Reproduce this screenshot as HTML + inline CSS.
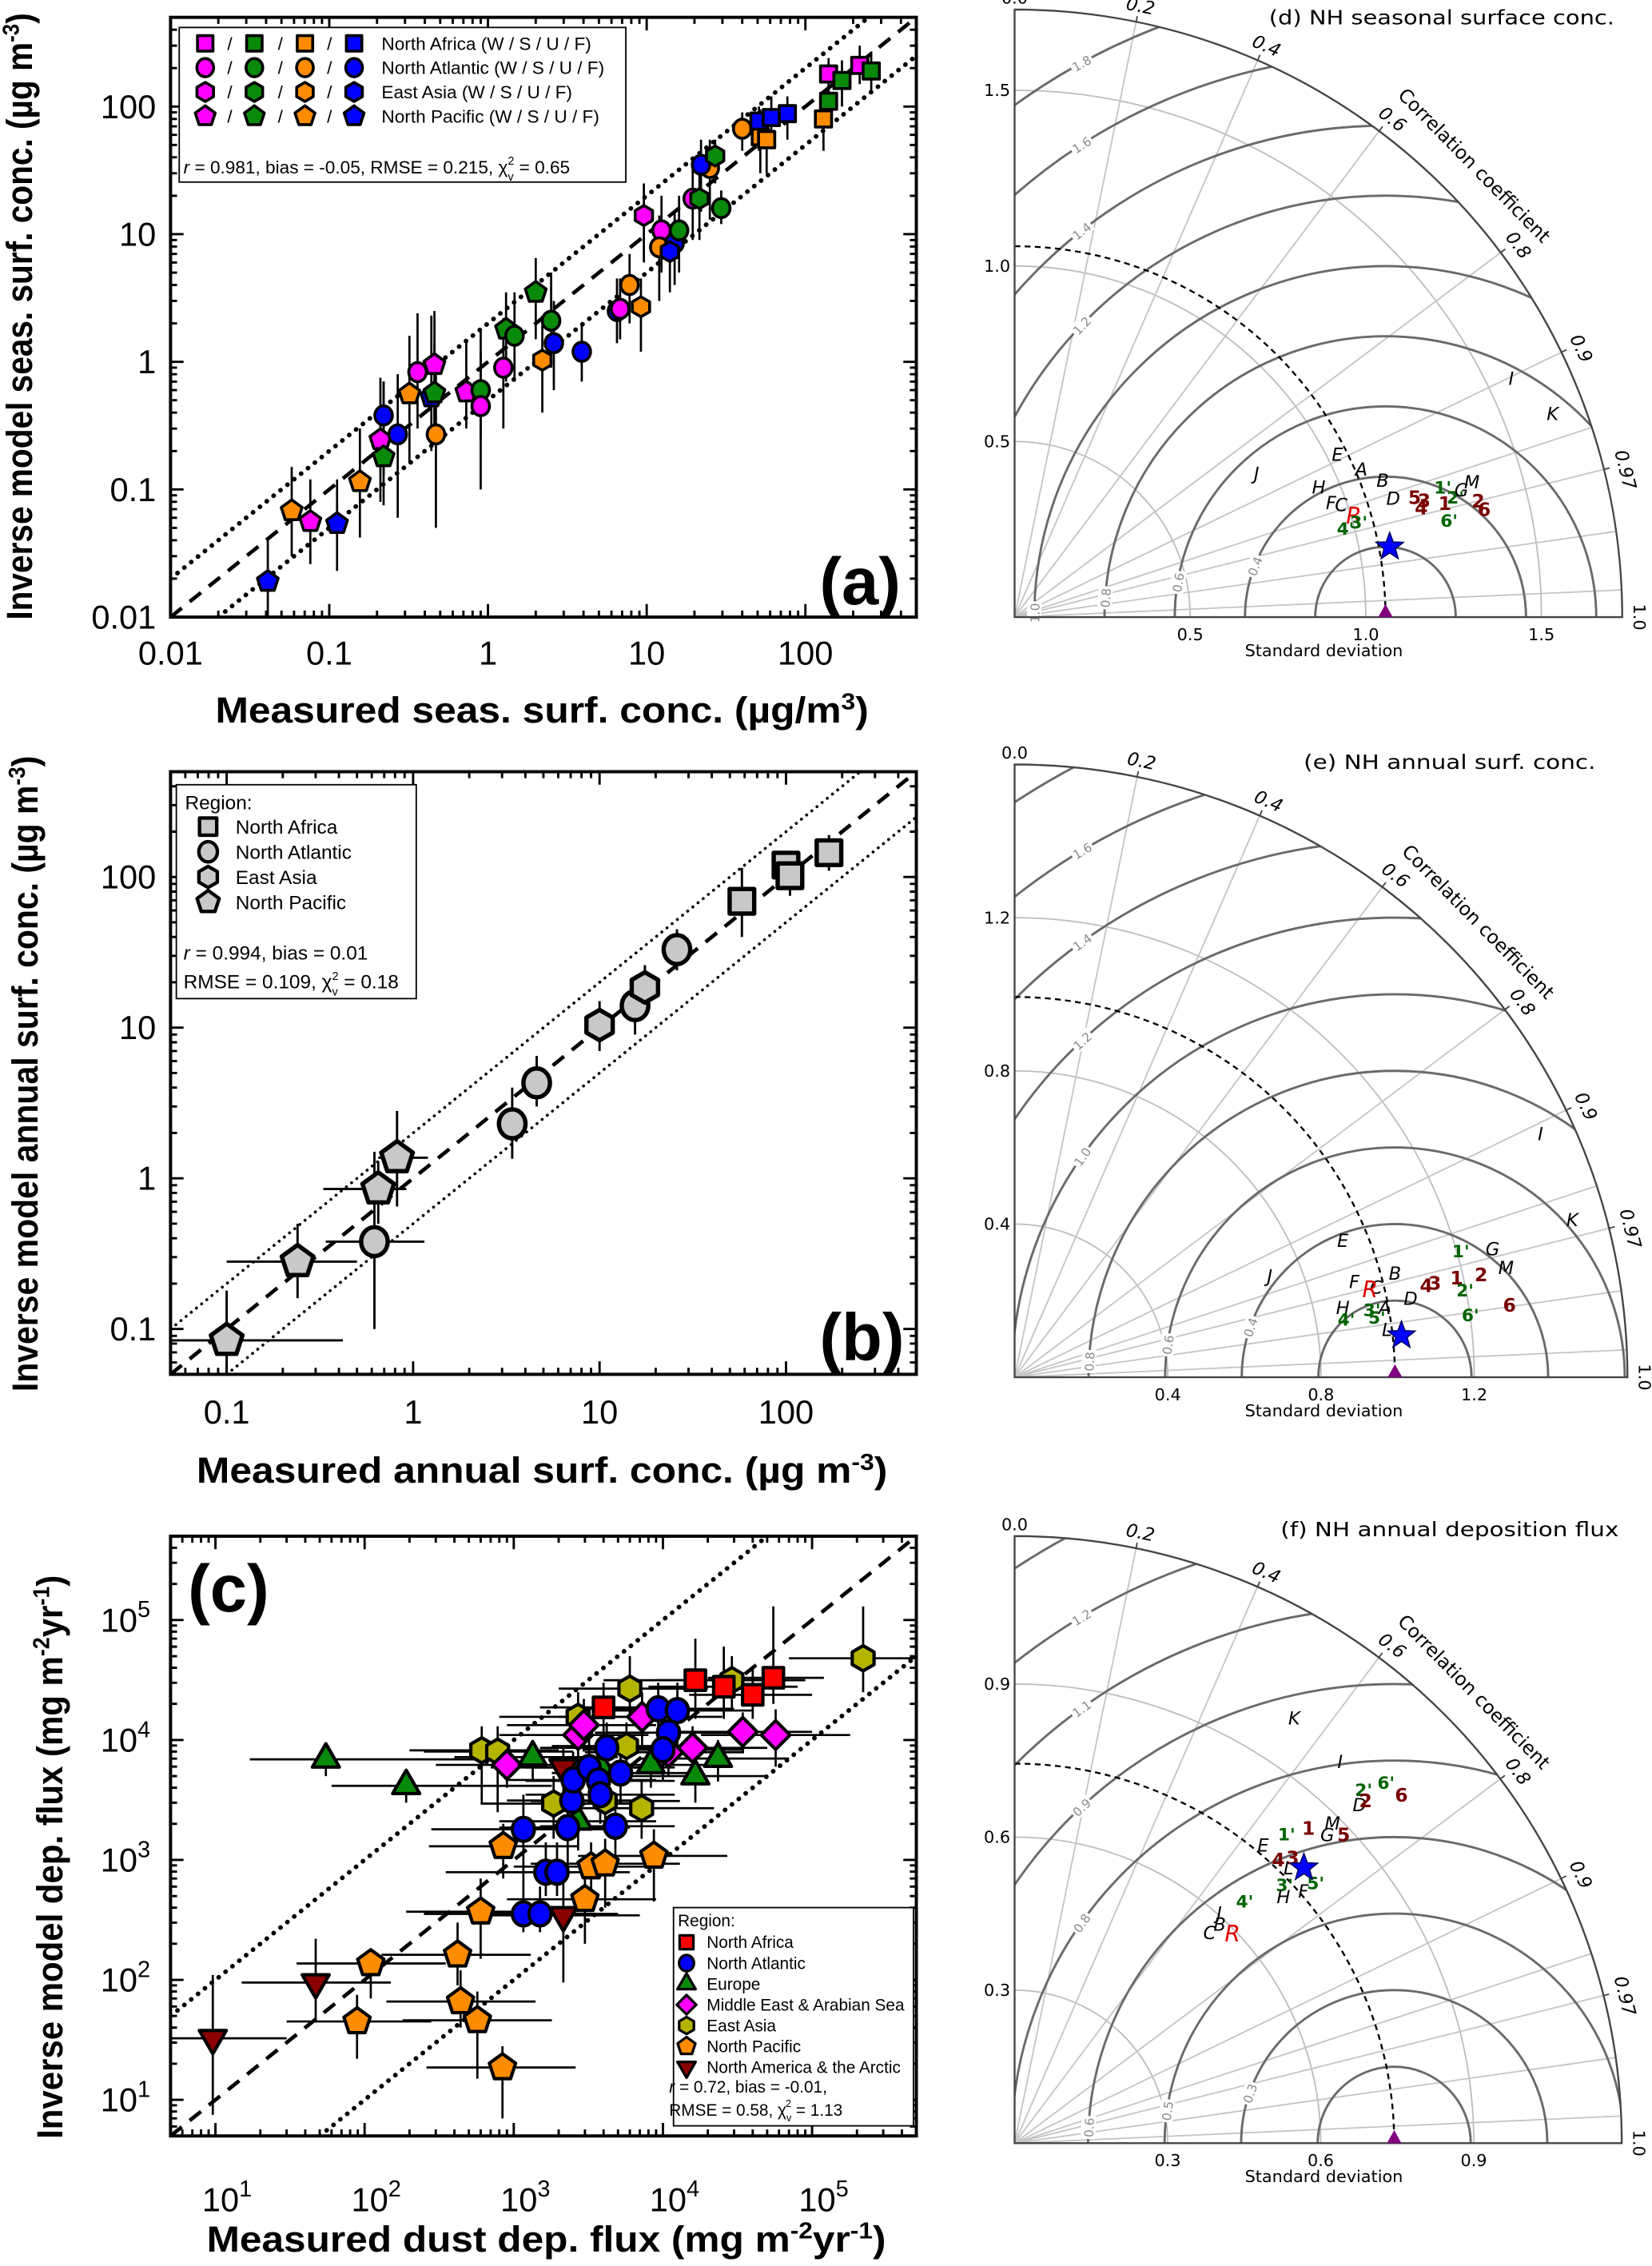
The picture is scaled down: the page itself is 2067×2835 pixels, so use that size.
<!DOCTYPE html>
<html><head><meta charset="utf-8">
<style>
html,body{margin:0;padding:0;background:#fff;overflow:hidden;width:2067px;height:2835px;}
svg{display:block;overflow:hidden;}
text{font-family:"Liberation Sans",Arial,sans-serif;}
.tay text{font-family:"DejaVu Sans","Liberation Sans",sans-serif;}
</style></head>
<body>
<svg id="fig" xmlns="http://www.w3.org/2000/svg" width="2067" height="2835" viewBox="0 0 1143 1568" preserveAspectRatio="none">
<rect x="0" y="0" width="1143" height="1568" fill="#fff"/>
</svg>
<script>
// ---------------- DATA ----------------
const aNorthPacific=[[0.041,0.019,0.01,0.04,'F'],[0.058,0.068,0.03,0.15,'U'],[0.076,0.056,0.026,0.12,'W'],[0.112,0.054,0.023,0.12,'F'],[0.156,0.115,0.042,0.3,'U'],[0.21,0.245,0.08,0.75,'W'],[0.22,0.18,0.075,0.7,'S'],[0.32,0.56,0.16,1.6,'U'],[0.44,0.53,0.2,2.3,'F'],[0.46,0.57,0.25,1.4,'S'],[0.46,0.95,0.3,2.5,'W'],[0.73,0.58,0.3,1.5,'W'],[1.3,1.8,0.7,3.5,'S'],[2.0,3.5,1.5,6.5,'S']];
const aNorthAtlantic=[[0.22,0.38,0.13,0.7,'F'],[0.27,0.27,0.06,0.8,'F'],[0.36,0.83,0.3,2.4,'W'],[0.47,0.27,0.05,0.8,'U'],[0.9,0.6,0.25,1.8,'S'],[0.9,0.45,0.1,1.2,'W'],[1.25,0.9,0.3,2.2,'W'],[1.47,1.6,0.7,3.5,'S'],[2.5,2.1,0.9,5,'S'],[2.6,1.4,0.6,3,'F'],[3.9,1.2,0.7,2,'F'],[7.8,4.0,2,7,'U'],[6.5,2.5,1.4,4.5,'F'],[6.8,2.6,1.5,4.5,'W'],[12.4,10.7,5,20,'W'],[12,7.9,3,14,'U'],[15,8.5,4,15,'F'],[16,10.7,5,20,'S'],[19.5,19,9,35,'W'],[29.5,16,12,22,'S'],[25,33,13,55,'U'],[22,35,15,55,'F'],[40,67,45,90,'U']];
const aEastAsia=[[2.2,1.03,0.4,2.3,'U'],[9.2,2.7,1.2,4.5,'U'],[9.6,14,6,25,'W'],[14,7.3,3.5,12,'F'],[21.5,19,9,35,'S'],[27,41,25,55,'S']];
const aNorthAfrica=[[52,58,30,95,'U'],[57,55,30,90,'U'],[51,77,45,100,'F'],[61,82,50,120,'F'],[77,88,55,120,'F'],[140,110,70,150,'S'],[130,80,45,110,'U'],[140,180,110,240,'W'],[170,160,100,230,'S'],[220,210,150,300,'W'],[260,190,130,270,'S']];
const aXTicks=['0.01','0.1','1','10','100'];
const aYTicks=['0.01','0.1','1','10','100'];

const bPoints=[[0.1,0.084,0.05,0.42,0.05,0.18,'pent'],[0.24,0.28,0.1,0.5,0.16,0.5,'pent'],[0.62,0.38,0.34,1.15,0.1,1.5,'circ'],[0.65,0.85,0.33,0.92,0.5,1.3,'pent'],[0.82,1.37,0.65,1.2,0.65,2.8,'pent'],[3.4,2.3,3.4,3.4,1.35,4,'circ'],[4.6,4.3,4.6,4.6,3,6.5,'circ'],[10,10.4,10,10,7,15,'hex'],[15.5,14,15.5,15.5,9,20,'circ'],[17.5,18.5,17.5,17.5,13,26,'hex'],[26,33,26,26,24,45,'circ'],[58,69,58,58,40,115,'sq'],[100,120,100,100,90,130,'sq'],[105,102,105,105,75,110,'sq'],[170,145,170,170,110,190,'sq']];
const bXTicks=['0.1','1','10','100'];
const bYTicks=['0.1','1','10','100'];

const cNorthAfrica=[[4000,18700,1500,14000,10000,30000],[16500,31500,4000,60000,15000,70000],[25600,27800,8000,80000,15000,60000],[40000,23800,15000,100000,15000,40000],[55000,33000,20000,120000,20000,130000]];
const cNorthAtlantic=[[1160,1800,280,4000,700,3500],[1160,355,250,3500,250,700],[1500,355,500,5000,250,600],[1640,790,350,6000,500,1400],[1950,790,700,5000,500,1400],[2300,1860,800,6000,900,3500],[2450,3130,900,8000,1500,6000],[2500,4640,900,9000,2500,8000],[3200,5900,1200,10000,3000,10000],[3700,4560,1200,12000,2500,8000],[4200,8600,1500,15000,5000,14000],[4800,1910,1500,12000,1000,3500],[5200,5300,1800,18000,3000,9000],[9300,18200,3000,30000,9000,30000],[12500,17600,4000,40000,9000,30000],[10900,11500,3500,35000,6000,20000],[10000,8300,3000,35000,4500,14000],[3800,3500,1200,12000,2000,6000]];
const cEurope=[[55,6900,17,700,5000,8000],[190,4150,60,1800,3000,5000],[1340,7200,400,5000,4500,10000],[2700,2100,800,9000,1200,3500],[3850,5900,1200,12000,3500,9000],[8300,6200,2500,25000,4000,9000],[16500,5000,5000,50000,3000,8000],[23400,7000,7000,70000,4500,10000]];
const cMiddleEast=[[900,6200,300,3000,4000,9000],[2700,11000,800,8000,6000,18000],[2950,13300,900,9000,8000,22000],[7250,15600,2000,25000,9000,25000],[10900,7900,3000,35000,5000,12000],[15800,8600,5000,50000,5500,13000],[34300,11700,10000,100000,8000,17000],[57000,11000,18000,180000,6000,18000]];
const cEastAsia=[[610,8200,200,2000,3000,13000],[780,8000,250,2500,2500,13000],[1850,2950,600,6000,1500,5000],[2700,15600,800,9000,9000,25000],[4100,3100,1300,13000,1800,5000],[5700,8900,1800,18000,5000,14000],[6000,26800,2000,20000,15000,50000],[7200,2700,2200,22000,1500,4500],[29000,31500,9000,90000,18000,50000],[220000,48000,70000,700000,25000,130000]];
const cNorthPacific=[[89,45,30,280,22,75],[110,137,35,350,70,180],[420,162,130,1300,90,300],[440,66,140,1400,40,120],[570,46,180,1800,15,80],[840,18.6,260,2600,7,28],[600,370,190,1900,150,700],[850,1300,270,2700,700,2000],[3000,470,900,9000,200,900],[3300,880,1000,10000,500,1400],[4100,930,1300,13000,400,1500],[8700,1080,2700,27000,450,1800]];
const cNorthAmerica=[[9.6,32.6,3,30,7.5,110],[47,95,15,150,45,220],[2150,345,700,7000,95,700],[2150,5900,700,7000,3000,9000]];
const cTickExp=['1','2','3','4','5'];

const dPoints=[['J',0.689,0.407],['E',0.919,0.462],['A',0.987,0.419],['B',1.048,0.387],['H',0.866,0.368],['F',0.901,0.324],['C',0.930,0.318],['D',1.078,0.336],['R',0.966,0.283],["4'",0.942,0.251],["3'",0.980,0.269],['5',1.139,0.338],['3',1.166,0.330],['4',1.158,0.309],['1',1.225,0.321],["1'",1.219,0.368],["2'",1.255,0.340],['G',1.272,0.360],['M',1.302,0.383],['2',1.320,0.328],['6',1.337,0.304],["6'",1.237,0.274],['I',1.414,0.678],['K',1.532,0.578]];
const dStar=[1.068,0.200];
const dRef=1.056;
const ePoints=[['E',0.857,0.355],['J',0.666,0.262],['F',0.887,0.248],['C',0.944,0.233],['R',0.928,0.224],['B',0.993,0.270],['H',0.857,0.180],["3'",0.933,0.175],['A',0.966,0.180],["4'",0.866,0.150],["5'",0.946,0.155],['L',0.972,0.123],['D',1.034,0.204],['4',1.075,0.237],['3',1.097,0.244],['1',1.154,0.257],['2',1.218,0.266],["1'",1.165,0.328],['G',1.248,0.333],['M',1.283,0.284],["2'",1.176,0.226],["6'",1.190,0.161],['6',1.292,0.186],['I',1.373,0.634],['K',1.456,0.410]];
const eStar=[1.010,0.109];
const eRef=0.993;
const fPoints=[['K',0.548,0.832],['I',0.638,0.747],["2'",0.684,0.692],["6'",0.728,0.706],['6',0.758,0.681],['D',0.676,0.662],['2',0.688,0.670],['M',0.623,0.626],['1',0.576,0.616],['G',0.613,0.603],['5',0.645,0.603],["1'",0.533,0.605],['E',0.487,0.583],['4',0.517,0.554],['3',0.545,0.558],['L',0.537,0.538],["3'",0.529,0.505],["5'",0.590,0.509],['F',0.566,0.493],['H',0.527,0.482],["4'",0.451,0.473],['J',0.401,0.450],['B',0.402,0.428],['C',0.382,0.411],['R',0.427,0.407]];
const fStar=[0.567,0.540];
const fRef=0.744;
const corrTickValues=[0.2,0.4,0.6,0.8,0.9,0.97];
const corrRayValues=[0.2,0.4,0.6,0.8,0.9,0.95,0.97,0.99,0.999];

// ---------------- HELPERS ----------------
const NS='http://www.w3.org/2000/svg';
const svg=document.getElementById('fig');
function mk(tag,attrs,parent){const e=document.createElementNS(NS,tag);for(const k in attrs)e.setAttribute(k,attrs[k]);(parent||svg).appendChild(e);return e;}
function grp(name,parent){const g=mk('g',{},parent);return g;}
function txt(s,x,y,attrs,parent){const t=mk('text',Object.assign({x:x,y:y},attrs||{}),parent);t.textContent=s;return t;}
const seasonColor={W:'#ff00ff',S:'#0a8a0a',U:'#ff8c00',F:'#0000ff'};

function shapePts(type,cx,cy,r){
  const poly=(n,start,rad)=>{const p=[];for(let k=0;k<n;k++){const a=(start+360*k/n)*Math.PI/180;p.push((cx+rad*Math.cos(a)).toFixed(2)+','+(cy+rad*Math.sin(a)).toFixed(2));}return p.join(' ');};
  if(type==='hex')return poly(6,-90,r*1.05);
  if(type==='pent')return poly(5,-90,r*1.15);
  if(type==='tri')return poly(3,-90,r*1.3);
  if(type==='tdown')return poly(3,90,r*1.3);
  if(type==='dia')return poly(4,-90,r*1.2);
  return null;
}
function marker(type,cx,cy,r,fill,sw,parent){
  let e;
  if(type==='sq')e=mk('rect',{x:cx-r*0.85,y:cy-r*0.85,width:r*1.7,height:r*1.7},parent);
  else if(type==='circ')e=mk('ellipse',{cx:cx,cy:cy,rx:r*0.92,ry:r},parent);
  else e=mk('polygon',{points:shapePts(type,cx,cy,r)},parent);
  e.setAttribute('fill',fill);e.setAttribute('stroke','#000');e.setAttribute('stroke-width',sw);e.setAttribute('stroke-linejoin','round');
  return e;
}

let clipId=0;
function scatterPanel(name,c){
  const g=grp(name);
  const L0=Math.log10(c.min),L1=Math.log10(c.max);
  c.clamp=v=>Math.min(c.max,Math.max(c.min,v));
  c.sx=v=>c.x0+(Math.log10(c.clamp(v))-L0)/(L1-L0)*(c.x1-c.x0);
  c.sy=v=>c.y1-(Math.log10(c.clamp(v))-L0)/(L1-L0)*(c.y1-c.y0);
  const id='clip'+(clipId++);
  const cp=mk('clipPath',{id:id},g);mk('rect',{x:c.x0,y:c.y0,width:c.x1-c.x0,height:c.y1-c.y0},cp);
  c.plot=grp(name+'-plot-area',g);c.plot.setAttribute('clip-path','url(#'+id+')');
  const lines=grp(name+'-reference-lines',c.plot);
  const l1=mk('line',{x1:c.sx(c.min),y1:c.sy(c.min),x2:c.sx(c.max),y2:c.sy(c.max),stroke:'#000','stroke-width':2.6,'stroke-dasharray':'10,7'},lines);
  
  const f=c.factor;
  const up=mk('line',{x1:c.sx(c.min),y1:c.sy(c.min*f),x2:c.sx(c.max/f),y2:c.sy(c.max),stroke:'#000','stroke-width':c.dotW,'stroke-linecap':'round','stroke-dasharray':'0.1,'+c.dotGap},lines);
  
  const dn=mk('line',{x1:c.sx(c.min*f),y1:c.sy(c.min),x2:c.sx(c.max),y2:c.sy(c.max/f),stroke:'#000','stroke-width':c.dotW,'stroke-linecap':'round','stroke-dasharray':'0.1,'+c.dotGap},lines);
  
  const tk=grp(name+'-ticks',g);
  let d='';
  for(let e=Math.floor(L0);e<=Math.ceil(L1);e++){for(let m=1;m<10;m++){const v=m*Math.pow(10,e);const lv=Math.log10(v);if(lv<L0-1e-9||lv>L1+1e-9)continue;const len=m===1?9:4.5;
    const x=c.sx(v),y=c.sy(v);
    d+=`M${x},${c.y1}v${-len}M${x},${c.y0}v${len}M${c.x0},${y}h${len}M${c.x1},${y}h${-len}`;}}
  mk('path',{d:d,stroke:'#000','stroke-width':1.6,fill:'none'},tk);
  const box=mk('rect',{x:c.x0,y:c.y0,width:c.x1-c.x0,height:c.y1-c.y0,fill:'none',stroke:'#000','stroke-width':2.2},g);
  
  return c;
}
function errBars(c,x,y,xlo,xhi,ylo,yhi,sw){
  let d=`M${c.sx(x)},${c.sy(ylo)}V${c.sy(yhi)}`;
  if(xlo!==xhi)d+=`M${c.sx(xlo)},${c.sy(y)}H${c.sx(xhi)}`;
  const p=mk('path',{d:d,stroke:'#000','stroke-width':sw,fill:'none'},c.plot);
  
}

// ---------------- PANEL A ----------------
const A=scatterPanel('panel-a',{x0:118,x1:634,y0:12,y1:427,min:0.01,max:500,factor:2,dotW:3.2,dotGap:6});
const aSeries=[[aNorthPacific,'pent','north-pacific'],[aNorthAtlantic,'circ','north-atlantic'],[aEastAsia,'hex','east-asia'],[aNorthAfrica,'sq','north-africa']];
aSeries.forEach(([arr])=>arr.forEach(p=>errBars(A,p[0],p[1],p[0],p[0],p[2],p[3],1.5)));
aSeries.forEach(([arr,shp,nm])=>{
  arr.forEach(p=>{const m=marker(shp,A.sx(p[0]),A.sy(p[1]),6.6,seasonColor[p[4]],2,A.plot);
    });
});
(function(){
  const g=grp('panel-a-axis-labels');
  aXTicks.forEach((s,i)=>{txt(s,A.sx(0.01*Math.pow(10,i)),460,{'font-size':23,'text-anchor':'middle'},g);});
  aYTicks.forEach((s,i)=>{txt(s,108,A.sy(0.01*Math.pow(10,i))+8,{'font-size':23,'text-anchor':'end'},g);});
  const xt=txt('',375,500,{'font-size':25,'font-weight':'bold','text-anchor':'middle',textLength:452,lengthAdjust:'spacingAndGlyphs'},g);
  xt.innerHTML='Measured seas. surf. conc.  (\u00b5g/m<tspan dy="-9" font-size="16">3</tspan><tspan dy="9">)</tspan>';
  
  const yt=txt('',0,0,{'font-size':25,'font-weight':'bold','text-anchor':'middle',transform:'translate(22,219) rotate(-90)',textLength:420,lengthAdjust:'spacingAndGlyphs'},g);
  yt.innerHTML='Inverse model  seas. surf. conc.  (\u00b5g m<tspan dy="-9" font-size="16">-3</tspan><tspan dy="9">)</tspan>';
  
  const pl=txt('(a)',567,418,{'font-size':46,'font-weight':'bold'},g);
  
  const lg=grp('panel-a-legend');
  mk('rect',{x:124,y:19,width:309,height:107,fill:'#fff',stroke:'#000','stroke-width':1},lg);
  const rows=[['sq','North Africa (W / S / U / F)'],['circ','North Atlantic (W / S / U / F)'],['hex','East Asia (W / S / U / F)'],['pent','North Pacific (W / S / U / F)']];
  const mx=[142,176,211,245],sl=[159,194,228];
  rows.forEach((r,i)=>{const y=30+i*16.8;const e=grp('legend-entry',lg);
    ['W','S','U','F'].forEach((s,j)=>marker(r[0],mx[j],y,6.3,seasonColor[s],2,e));
    sl.forEach(x=>txt('/',x,y+4.5,{'font-size':12.5,'text-anchor':'middle'},e));
    txt(r[1],264,y+4.5,{'font-size':12.5},e);});
  const st=txt('',127,120,{'font-size':12.5},lg);
  st.innerHTML='<tspan font-style="italic">r</tspan> = 0.981, bias = -0.05, RMSE = 0.215,    \u03c7<tspan dy="5" font-size="8">v</tspan><tspan dy="-11" dx="-4" font-size="8">2</tspan><tspan dy="6"> = 0.65</tspan>';
})();

// ---------------- PANEL B ----------------
const B=scatterPanel('panel-b',{x0:118,x1:634,y0:534,y1:951,min:0.05,max:500,factor:2,dotW:2,dotGap:4.5});
bPoints.forEach(p=>errBars(B,p[0],p[1],p[2],p[3],p[4],p[5],1.6));
bPoints.forEach(p=>{const m=marker(p[6],B.sx(p[0]),B.sy(p[1]),10,'#c8c8c8',3,B.plot);});
(function(){
  const g=grp('panel-b-axis-labels');
  bXTicks.forEach((s,i)=>{txt(s,B.sx(0.1*Math.pow(10,i)),985,{'font-size':23,'text-anchor':'middle'},g);});
  bYTicks.forEach((s,i)=>{txt(s,108,B.sy(0.1*Math.pow(10,i))+8,{'font-size':23,'text-anchor':'end'},g);});
  const xt=txt('',375,1026,{'font-size':25,'font-weight':'bold','text-anchor':'middle',textLength:478,lengthAdjust:'spacingAndGlyphs'},g);
  xt.innerHTML='Measured annual surf. conc.  (\u00b5g m<tspan dy="-9" font-size="16">-3</tspan><tspan dy="9">)</tspan>';
  
  const yt=txt('',0,0,{'font-size':25,'font-weight':'bold','text-anchor':'middle',transform:'translate(26,743) rotate(-90)',textLength:440,lengthAdjust:'spacingAndGlyphs'},g);
  yt.innerHTML='Inverse model  annual surf. conc.  (\u00b5g m<tspan dy="-9" font-size="16">-3</tspan><tspan dy="9">)</tspan>';
  
  const pl=txt('(b)',567,941,{'font-size':46,'font-weight':'bold'},g);
  
  const lg=grp('panel-b-legend');
  mk('rect',{x:122,y:543,width:166,height:148,fill:'#fff',stroke:'#000','stroke-width':1},lg);
  txt('Region:',128,560,{'font-size':13.5},lg);
  [['sq','North Africa'],['circ','North Atlantic'],['hex','East Asia'],['pent','North Pacific']].forEach((r,i)=>{const y=572+i*17.4;const e=grp('legend-entry',lg);
    marker(r[0],144,y,7,'#c8c8c8',2.4,e);txt(r[1],163,y+5,{'font-size':13.5},e);});
  const s1=txt('',127,664,{'font-size':13.5},lg);s1.innerHTML='<tspan font-style="italic">r</tspan> = 0.994, bias = 0.01';
  const s2=txt('',127,684,{'font-size':13.5},lg);s2.innerHTML='RMSE = 0.109,  \u03c7<tspan dy="5" font-size="8">v</tspan><tspan dy="-11" dx="-4" font-size="8">2</tspan><tspan dy="6"> = 0.18</tspan>';
})();

// ---------------- PANEL C ----------------
const C=scatterPanel('panel-c',{x0:118,x1:634,y0:1063,y1:1478,min:5,max:5e5,factor:10,dotW:3.2,dotGap:6});
const cSeries=[[cNorthAmerica,'tdown','#8b0000','north-america-arctic'],[cNorthPacific,'pent','#ff8c00','north-pacific'],[cEastAsia,'hex','#b4b400','east-asia'],[cMiddleEast,'dia','#ff00ff','middle-east'],[cEurope,'tri','#0a8a0a','europe'],[cNorthAtlantic,'circ','#0000ff','north-atlantic'],[cNorthAfrica,'sq','#ff0000','north-africa']];
cSeries.forEach(([arr])=>arr.forEach(p=>errBars(C,p[0],p[1],p[2],p[3],p[4],p[5],1.5)));
cSeries.forEach(([arr,shp,col,nm])=>arr.forEach(p=>{const m=marker(shp,C.sx(p[0]),C.sy(p[1]),8.3,col,2.3,C.plot);}));
(function(){
  const g=grp('panel-c-axis-labels');
  cTickExp.forEach((s,i)=>{const v=Math.pow(10,i+1);
    const t=txt('',C.sx(v)+8,1530,{'font-size':23,'text-anchor':'middle'},g);t.innerHTML='10<tspan dy="-10" font-size="16">'+s+'</tspan>';
    const u=txt('',104,C.sy(v)+8,{'font-size':23,'text-anchor':'end'},g);u.innerHTML='10<tspan dy="-10" font-size="16">'+s+'</tspan>';});
  const xt=txt('',378,1558,{'font-size':25,'font-weight':'bold','text-anchor':'middle',textLength:470,lengthAdjust:'spacingAndGlyphs'},g);
  xt.innerHTML='Measured dust dep. flux  (mg m<tspan dy="-9" font-size="16">-2</tspan><tspan dy="9">yr</tspan><tspan dy="-9" font-size="16">-1</tspan><tspan dy="9">)</tspan>';
  
  const yt=txt('',0,0,{'font-size':25,'font-weight':'bold','text-anchor':'middle',transform:'translate(43,1285) rotate(-90)',textLength:390,lengthAdjust:'spacingAndGlyphs'},g);
  yt.innerHTML='Inverse model dep. flux  (mg m<tspan dy="-9" font-size="16">-2</tspan><tspan dy="9">yr</tspan><tspan dy="-9" font-size="16">-1</tspan><tspan dy="9">)</tspan>';
  
  const pl=txt('(c)',130,1115,{'font-size':46,'font-weight':'bold'},g);
  
  const lg=grp('panel-c-legend');
  mk('rect',{x:466,y:1320,width:166,height:151,fill:'#fff',stroke:'#000','stroke-width':1},lg);
  txt('Region:',469,1333,{'font-size':11.5},lg);
  const ents=[['sq','#ff0000','North Africa'],['circ','#0000ff','North Atlantic'],['tri','#0a8a0a','Europe'],['dia','#ff00ff','Middle East & Arabian Sea'],['hex','#b4b400','East Asia'],['pent','#ff8c00','North Pacific'],['tdown','#8b0000','North America & the Arctic']];
  ents.forEach((r,i)=>{const y=1344+i*14.4;const e=grp('legend-entry',lg);marker(r[0],475,y,5.6,r[1],1.8,e);txt(r[2],489,y+4,{'font-size':11.5},e);});
  const s1=txt('',463,1448,{'font-size':11.5},lg);s1.innerHTML='<tspan font-style="italic">r</tspan> = 0.72, bias = -0.01,';
  const s2=txt('',463,1464,{'font-size':11.5},lg);s2.innerHTML='RMSE = 0.58,  \u03c7<tspan dy="4" font-size="7">v</tspan><tspan dy="-10" dx="-4" font-size="7">2</tspan><tspan dy="6"> = 1.13</tspan>';
})();

// ---------------- TAYLOR ----------------
function taylor(name,c,points,star,ref){
  const g=grp(name);g.setAttribute('class','tay');
  const X=(sx)=>c.ox+sx*c.u, Y=(sy)=>c.oy-sy*c.u;
  const R=c.rmax*c.u;
  const id='clip'+(clipId++);
  const cp=mk('clipPath',{id:id},g);
  mk('path',{d:`M${c.ox},${c.oy}V${c.oy-R}A${R},${R} 0 0 1 ${c.ox+R},${c.oy}Z`},cp);
  const inner=grp(name+'-grid',g);inner.setAttribute('clip-path','url(#'+id+')');
  c.sdTicks.forEach(s=>{const r=s*c.u;mk('path',{d:`M${c.ox},${c.oy-r}A${r},${r} 0 0 1 ${c.ox+r},${c.oy}`,fill:'none',stroke:'#bdbdbd','stroke-width':1},inner);});
  corrRayValues.forEach(v=>{const a=Math.acos(v);mk('line',{x1:c.ox,y1:c.oy,x2:c.ox+R*Math.cos(a),y2:c.oy-R*Math.sin(a),stroke:'#c4c4c4','stroke-width':1},inner);});
  for(let k=1;k<=c.n;k++){const rr=k*c.step;const r=rr*c.u;const cx=X(ref);
    // upper half-circle only (stays within panel)
    mk('path',{d:`M${cx-r},${c.oy}A${r},${r} 0 0 1 ${cx+r},${c.oy}`,fill:'none',stroke:'#6a6a6a','stroke-width':1.6},inner);}
  for(let k=1;k<=c.n;k++){const rr=k*c.step;let px,py;
    const a=12*Math.PI/180;const disc=rr*rr-ref*ref*Math.sin(a)*Math.sin(a);
    if(rr<ref*0.99&&disc>0){const t=ref*Math.cos(a)-Math.sqrt(disc);px=t*Math.cos(a);py=t*Math.sin(a);}
    else{px=0.11*c.rmax;const q=rr*rr-(px-ref)*(px-ref);if(q<=0)continue;py=Math.sqrt(q);if(Math.hypot(px,py)>c.rmax*0.97)continue;}
    const phi=Math.atan2(py,px-ref)*180/Math.PI;const rot=90-phi;
    const lab=(Math.round(rr*10)/10).toFixed(1);
    const gg=mk('g',{transform:`translate(${X(px)},${Y(py)}) rotate(${rot})`},g);
    mk('rect',{x:-8,y:-5,width:16,height:10,fill:'#fff'},gg);
    txt(lab,0,3.5,{'font-size':8.5,fill:'#8a8a8a','text-anchor':'middle'},gg);}
  const rr=ref*c.u;
  mk('path',{d:`M${c.ox},${c.oy-rr}A${rr},${rr} 0 0 1 ${c.ox+rr},${c.oy}`,fill:'none',stroke:'#000','stroke-width':1.3,'stroke-dasharray':'4,3'},g);
  mk('path',{d:`M${c.ox},${c.oy}V${c.oy-R}A${R},${R} 0 0 1 ${c.ox+R},${c.oy}Z`,fill:'none',stroke:'#444','stroke-width':1.3},g);
  corrTickValues.forEach(v=>{const a=Math.acos(v);const r2=R+11;
    mk('line',{x1:c.ox+R*Math.cos(a),y1:c.oy-R*Math.sin(a),x2:c.ox+(R+4)*Math.cos(a),y2:c.oy-(R+4)*Math.sin(a),stroke:'#444'},g);
    txt(String(v),0,0,{'font-size':12.5,'font-style':'italic','text-anchor':'middle',transform:`translate(${c.ox+r2*Math.cos(a)},${c.oy-r2*Math.sin(a)+4}) rotate(${90-a*180/Math.PI})`},g);});
  txt('0.0',c.ox,c.oy-R-4,{'font-size':11.5,'text-anchor':'middle'},g);
  txt('1.0',0,0,{'font-size':11.5,'text-anchor':'middle',transform:`translate(${c.ox+R+8},${c.oy}) rotate(90)`},g);
  const ca=44.5*Math.PI/180,cr=c.rmax*1.05*c.u;
  const cc=txt('Correlation coefficient',0,0,{'font-size':13,'text-anchor':'middle',transform:`translate(${c.ox+cr*Math.cos(ca)},${c.oy-cr*Math.sin(ca)}) rotate(45.5)`},g);
  
  c.sdTicks.forEach(s=>{txt(s.toFixed(1),X(s),c.oy+16,{'font-size':11.5,'text-anchor':'middle'},g);
    txt(s.toFixed(1),c.ox-3,Y(s)+4,{'font-size':11.5,'text-anchor':'end'},g);});
  const sdt=txt('Standard deviation',916,c.oy+27,{'font-size':11.5,'text-anchor':'middle'},g);
  
  const tt=txt(c.title,c.tx,c.ty,{'font-size':14,textLength:c.tw,lengthAdjust:'spacingAndGlyphs'},g);
  
  points.forEach(p=>{const lab=p[0];let fill='#000',st='italic',fs=12.5,fw='normal';
    if(lab==='R'){fill='#e00000';fs=15.5;}
    else if(lab.indexOf("'")>=0){fill='#006400';st='normal';fw='bold';fs=12;}
    else if(/\d/.test(lab)){fill='#7a0000';st='normal';fw='bold';fs=13;}
    const t=txt(lab,X(p[1]),Y(p[2])+4,{'font-size':fs,'font-style':st,'font-weight':fw,fill:fill,'text-anchor':'middle'},g);
    });
  const sr=10,pts=[];for(let k=0;k<10;k++){const a=(-90+36*k)*Math.PI/180;const r=k%2?sr*0.42:sr;pts.push((X(star[0])+r*Math.cos(a)).toFixed(2)+','+(Y(star[1])+r*Math.sin(a)).toFixed(2));}
  const s=mk('polygon',{points:pts.join(' '),fill:'#0000ff',stroke:'#00005a','stroke-width':0.8},g);
  
  const tr=mk('polygon',{points:`${X(ref)-5},${c.oy} ${X(ref)+5},${c.oy} ${X(ref)},${c.oy-9}`,fill:'#800080'},g);
  
}
taylor('taylor-d',{ox:702,oy:427,u:243,rmax:1.73,step:0.2,n:9,sdTicks:[0.5,1.0,1.5],title:'(d) NH seasonal surface conc.',tx:878,ty:17,tw:239},dPoints,dStar,dRef);
taylor('taylor-e',{ox:702,oy:953,u:265,rmax:1.6,step:0.2,n:9,sdTicks:[0.4,0.8,1.2],title:'(e) NH annual surf. conc.',tx:902,ty:532,tw:202},ePoints,eStar,eRef);
taylor('taylor-f',{ox:702,oy:1483,u:353,rmax:1.19,step:0.15,n:9,sdTicks:[0.3,0.6,0.9],title:'(f) NH annual deposition flux',tx:886,ty:1063,tw:234},fPoints,fStar,fRef);
</script>
</body></html>
